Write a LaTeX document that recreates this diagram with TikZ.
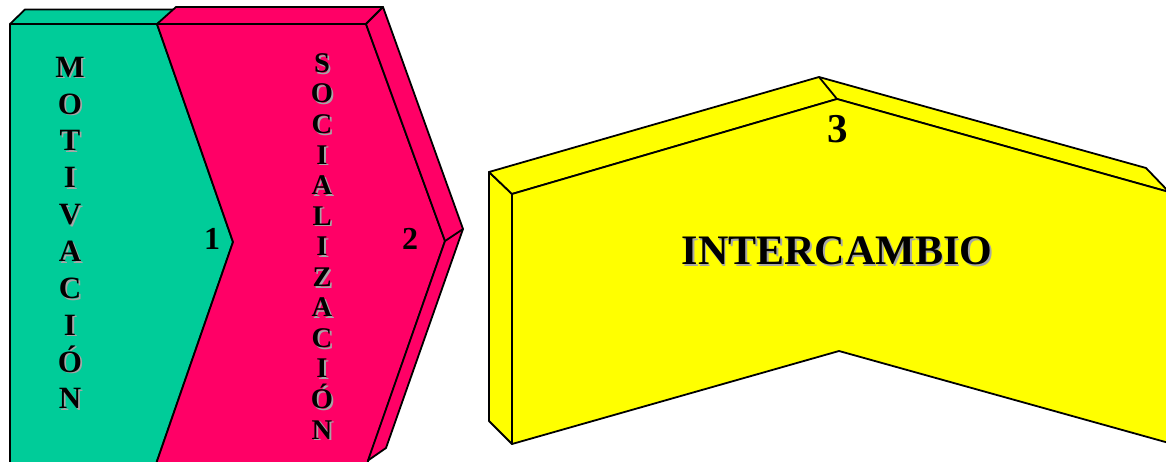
\documentclass[tikz,border=0pt]{standalone}
\usepackage{fontspec}
\setmainfont{Liberation Serif}
\definecolor{motivgreen}{HTML}{00CC99}
\definecolor{socialpink}{HTML}{FF0066}
\definecolor{cambioyellow}{HTML}{FFFF00}
\tikzset{
  face/.style={draw=black, line width=1.8pt, line join=round},
  shadowtxt/.style={text=black!35, xshift=1.8pt, yshift=-1.8pt},
  column/.style={align=center, inner sep=0pt, anchor=north},
}

\begin{document}
\begin{tikzpicture}[x=1pt, y=-1pt]
  \useasboundingbox (0,0) rectangle (1166,462);
  % green block
  \coordinate (GA) at (10,24);
  \coordinate (GB) at (157,24);
  \coordinate (GT) at (233,242);
  \coordinate (GC) at (155,467);
  \coordinate (GD) at (10,467);
  \coordinate (GE) at (25,9.5);
  \coordinate (GF) at (180,9.5);
  \filldraw[face, fill=motivgreen] (GA) -- (GB) -- (GT) -- (GC) -- (GD) -- cycle;
  \filldraw[face, fill=motivgreen] (GA) -- (GE) -- (GF) -- (GB) -- cycle;
  % pink block
  \coordinate (PA) at (176,7);
  \coordinate (PB) at (383,7);
  \coordinate (PC) at (366,24);
  \coordinate (PT) at (445,241);
  \coordinate (PU) at (463,229);
  \coordinate (PD) at (368,460.5);
  \coordinate (PE) at (386,448);
  \coordinate (PF) at (366,467);
  \filldraw[face, fill=socialpink] (GB) -- (PC) -- (PT) -- (PF) -- (GC) -- (GT) -- cycle;
  \filldraw[face, fill=socialpink] (GB) -- (PA) -- (PB) -- (PC) -- cycle;
  \filldraw[face, fill=socialpink] (PC) -- (PB) -- (PU) -- (PE) -- (PD) -- (PT) -- cycle;
  \draw[face] (PT) -- (PU);
  % yellow block
  \coordinate (YA) at (489,172);
  \coordinate (YB) at (512,194);
  \coordinate (YC) at (512,444);
  \coordinate (YD) at (489,421);
  \coordinate (YR) at (819,77);
  \coordinate (YS) at (837,99);
  \coordinate (YE) at (1146,168);
  \coordinate (YF) at (1169,192);
  \coordinate (YG) at (1169,443);
  \coordinate (YH) at (839,351);
  \filldraw[face, fill=cambioyellow] (YA) -- (YB) -- (YC) -- (YD) -- cycle;
  \filldraw[face, fill=cambioyellow] (YA) -- (YR) -- (YE) -- (YF) -- (YS) -- (YB) -- cycle;
  \filldraw[face, fill=cambioyellow] (YB) -- (YS) -- (YF) -- (YG) -- (YH) -- (YC) -- cycle;
  \draw[face] (YR) -- (YS);
  % texts
  \begin{scope}[font={\fontsize{31}{36.85}\selectfont\bfseries}]
    \node[column, shadowtxt] (motiv-sh) at (70,56.7) {M\\O\\T\\I\\V\\A\\C\\I\\Ó\\N};
    \node[column] (motiv) at (70,56.7) {M\\O\\T\\I\\V\\A\\C\\I\\Ó\\N};
  \end{scope}
  \begin{scope}[font={\fontsize{28.5}{30.56}\selectfont\bfseries}]
    \node[column, shadowtxt] (social-sh) at (322,53.3) {S\\O\\C\\I\\A\\L\\I\\Z\\A\\C\\I\\Ó\\N};
    \node[column] (social) at (322,53.3) {S\\O\\C\\I\\A\\L\\I\\Z\\A\\C\\I\\Ó\\N};
  \end{scope}
  \begin{scope}[font={\fontsize{32}{38}\selectfont\bfseries}]
    \node[anchor=base] (one) at (212,250) {1};
    \node[anchor=base] (two) at (410,250) {2};
  \end{scope}
  \node[anchor=base, font={\fontsize{41}{48}\selectfont\bfseries}] (three) at (838,143) {3};
  \begin{scope}[font={\fontsize{42}{50}\selectfont\bfseries}]
    \node[anchor=base, shadowtxt] (cambio-sh) at (837,265) {INTERCAMBIO};
    \node[anchor=base] (cambio) at (837,265) {INTERCAMBIO};
  \end{scope}
\end{tikzpicture}
\end{document}
